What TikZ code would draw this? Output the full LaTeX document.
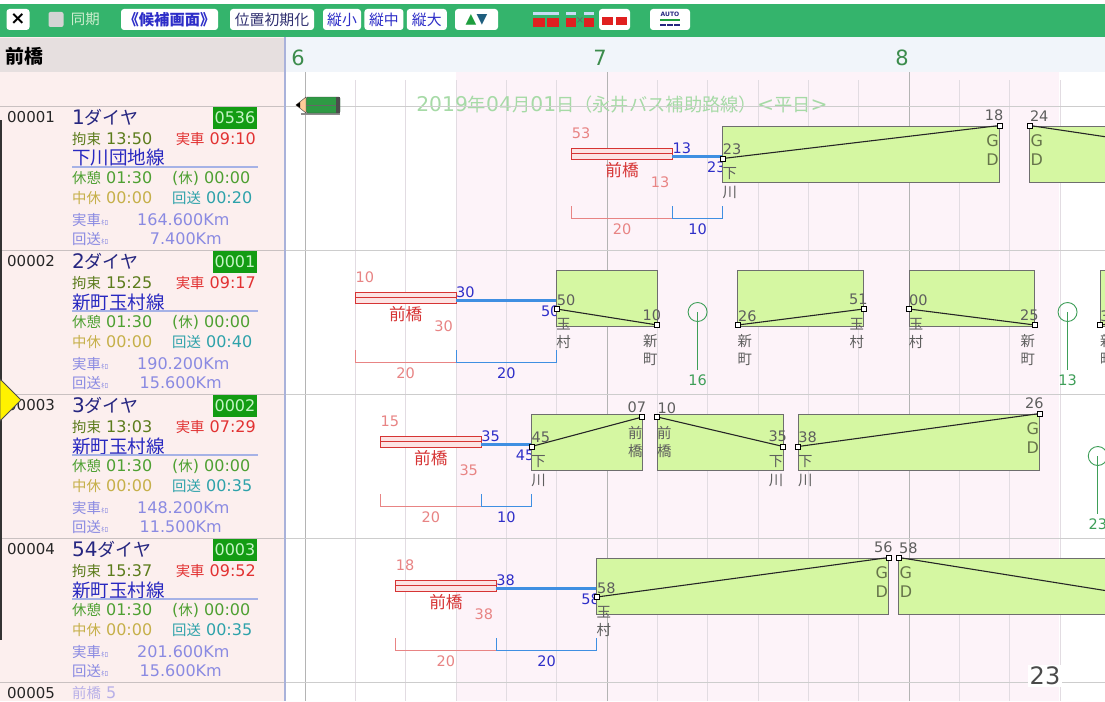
\documentclass[tikz,border=0pt]{standalone}
\usepackage{fontspec}
\setmainfont{DejaVu Sans}
\newfontfamily\jpfont{Noto Sans CJK JP}[Scale=0.9]
% Japanese runs switch to the CJK font by themselves
\XeTeXinterchartokenstate=1
\newXeTeXintercharclass\jpclass
\newcount\jpc
\newcommand{\jprange}[2]{%
  \jpc=#1\relax
  \loop\XeTeXcharclass\jpc=\jpclass\relax
  \ifnum\jpc<#2\relax\advance\jpc by 1\relax\repeat}
\jprange{"3000}{"30FF}
\jprange{"4E00}{"9FFF}
\jprange{"FF00}{"FFEF}
\XeTeXinterchartoks 0 \jpclass = {\begingroup\jpfont}
\XeTeXinterchartoks 4095 \jpclass = {\begingroup\jpfont}
\XeTeXinterchartoks \jpclass 0 = {\endgroup}
\XeTeXinterchartoks \jpclass 4095 = {\endgroup}
\usetikzlibrary{positioning}

\definecolor{barGreen}{HTML}{34B46C}
\definecolor{boxGray}{HTML}{D4D4D4}
\definecolor{syncGreen}{HTML}{CFEFD0}
\definecolor{numBlue}{HTML}{2E2EC8}
\definecolor{btnNavy}{HTML}{303070}
\definecolor{upGreen}{HTML}{1E9E3E}
\definecolor{downTeal}{HTML}{1E5E7E}
\definecolor{iconRed}{HTML}{E02020}
\definecolor{iconBlue}{HTML}{C8DCF4}
\definecolor{panelPink}{HTML}{FCEFEE}
\definecolor{headGray}{HTML}{E6DFDF}
\definecolor{headBlue}{HTML}{F1F5FA}
\definecolor{sepBlue}{HTML}{A9B2DA}
\definecolor{timePink}{HTML}{FDF3F9}
\definecolor{hourGray}{HTML}{B4B4B4}
\definecolor{minGray}{HTML}{E2DCE2}
\definecolor{rowGray}{HTML}{CDCDCD}
\definecolor{leftRule}{HTML}{C9C1C1}
\definecolor{hourGreen}{HTML}{3C8C4C}
\definecolor{dateGreen}{HTML}{A6DAA6}
\definecolor{pencilGreen}{HTML}{2E9A44}
\definecolor{tripFill}{HTML}{D5F7A2}
\definecolor{tripEdge}{HTML}{6E6E6E}
\definecolor{depotRed}{HTML}{D63434}
\definecolor{depotPink}{HTML}{FCE4E4}
\definecolor{salmon}{HTML}{E88484}
\definecolor{dhBlue}{HTML}{3F8FE2}
\definecolor{stGray}{HTML}{5E5E5E}
\definecolor{gdOlive}{HTML}{66744A}
\definecolor{breakGreen}{HTML}{3E9E58}
\definecolor{diaNavy}{HTML}{262680}
\definecolor{codeGreen}{HTML}{139C13}
\definecolor{codeText}{HTML}{C6F5C6}
\definecolor{kouOlive}{HTML}{5C7C1C}
\definecolor{jisRed}{HTML}{E23232}
\definecolor{routeBlue}{HTML}{2828C0}
\definecolor{routeLine}{HTML}{A6B2E6}
\definecolor{restGreen}{HTML}{4EA032}
\definecolor{nakaKhaki}{HTML}{C6B04A}
\definecolor{kaiTeal}{HTML}{2EA2AA}
\definecolor{kmLav}{HTML}{8A8AE2}
\definecolor{nextLav}{HTML}{B8B0E8}
\definecolor{pageGray}{HTML}{4A4A4A}

\tikzset{
  txt/.style={inner sep=0pt, font=\fontsize{16}{19}\selectfont},
  num/.style={inner sep=0pt, font=\fontsize{14.5}{16}\selectfont},
  tbtn/.style={fill=white, rounded corners=3pt, inner sep=0pt, minimum height=21pt,
    font=\fontsize{16.5}{17}\selectfont},
  tripbox/.style={fill=tripFill, draw=tripEdge, line width=0.9pt},
  tripline/.style={draw=black!85, line width=1.1pt},
  endsq/.style={rectangle, draw=black, fill=white, minimum size=5pt, inner sep=0pt, line width=0.9pt},
  station/.style={inner sep=0pt, text=stGray, align=center, font=\fontsize{16}{18.5}\selectfont},
  depotbar/.style={draw=depotRed, fill=depotPink, line width=0.9pt},
  deadhead/.style={draw=dhBlue, line width=2.5pt},
  redbr/.style={draw=salmon, line width=0.9pt},
  bluebr/.style={draw=dhBlue, line width=0.9pt},
  restmark/.style={circle, draw=breakGreen, minimum size=19pt, inner sep=0pt, line width=0.9pt},
  dtxt/.style={txt, anchor=west},
  hourlbl/.style={inner sep=0pt, text=hourGreen, font=\fontsize{21}{21}\selectfont}
}

% station heights inside a row
\newcommand{\yGD}{19.5}
\newcommand{\yMae}{23}
\newcommand{\yShimo}{52.5}
\newcommand{\yTama}{59}
\newcommand{\yShin}{75}

\newcommand{\twod}[1]{\ifnum#1<10 0\fi#1}
\newcommand{\gdmark}{\textcolor{gdOlive}{G}\\\textcolor{gdOlive}{D}}
\newcommand{\kiro}{{\fontsize{8}{8}\selectfont ｷﾛ}}

% one trip: name, start, end, start height, end height, start stop, end stop
\newcommand{\trip}[7]{%
  \pgfmathtruncatemacro\mA{mod(#2,60)}%
  \pgfmathtruncatemacro\mB{mod(#3,60)}%
  \draw[tripbox] (#2,20) rectangle (#3,76);
  \coordinate (#1a) at (#2,#4);
  \coordinate (#1b) at (#3,#5);
  \draw[tripline] (#1a) -- (#1b);
  \node[endsq] (#1qa) at (#1a) {};
  \node[endsq] (#1qb) at (#1b) {};
  \node[num, text=stGray, anchor=base west] (#1ma) at ([yshift=4pt]#1a) {\twod\mA};
  \node[num, text=stGray, anchor=base east] (#1mb) at ([xshift=4pt,yshift=5pt]#1b) {\twod\mB};
  \node[station, anchor=north] (#1na) at ([xshift=7pt,yshift=-9pt]#1a) {#6};
  \node[station, anchor=north] (#1nb) at ([xshift=-7pt,yshift=-9pt]#1b) {#7};
}

% leaving the depot: name, out, end of depot time, first trip
\newcommand{\outdepot}[4]{%
  \pgfmathtruncatemacro\mA{mod(#2,60)}%
  \pgfmathtruncatemacro\mB{mod(#3,60)}%
  \pgfmathtruncatemacro\mC{mod(#4,60)}%
  \pgfmathsetmacro\xA{(#2+#3)/2}%
  \pgfmathsetmacro\xB{(#3+#4)/2}%
  \pgfmathtruncatemacro\dA{#3-#2}%
  \pgfmathtruncatemacro\dB{#4-#3}%
  \draw[depotbar] (#2,42.5) rectangle (#3,53);
  \draw[depotRed, line width=0.7pt] (#2,47.75) -- (#3,47.75);
  \coordinate (#1p) at (#2,42.5);
  \coordinate (#1q) at (#3,53);
  \coordinate (#1m) at (\xA,53);
  \coordinate (#1o) at (#3,50.5);
  \coordinate (#1i) at (#4,50.5);
  \draw[deadhead] (#1o) -- (#1i);
  \node[num, text=salmon, anchor=base west] (#1l0) at ([yshift=10pt]#1p) {\twod\mA};
  \node[txt, text=depotRed, font=\fontsize{18.5}{19}\selectfont] (#1nm) at ([yshift=-11pt]#1m) {前橋};
  \node[num, text=salmon, anchor=base east] (#1l1) at ([xshift=-3pt,yshift=-28pt]#1q) {\twod\mB};
  \node[num, text=numBlue, anchor=base west] (#1l2) at ([yshift=3pt]#1o) {\twod\mB};
  \node[num, text=numBlue, anchor=east] (#1l3) at ([xshift=3pt,yshift=-11pt]#1i) {\twod\mC};
  \draw[redbr] (#2,100) |- (#3,112);
  \draw[bluebr] (#3,100) |- (#4,112) -- (#4,100);
  \node[num, text=salmon] (#1w0) at (\xA,123) {\dA};
  \node[num, text=numBlue] (#1w1) at (\xB,123) {\dB};
}

% break between two trips: name, end of one, start of next
\newcommand{\breakmark}[3]{%
  \pgfmathsetmacro\bx{(#2+#3)/2}%
  \pgfmathtruncatemacro\bd{#3-#2}%
  \node[restmark] (#1c) at (\bx,62) {};
  \coordinate (#1f) at (\bx,120);
  \draw[breakGreen, line width=0.9pt] (#1c.center) -- (#1f);
  \node[num, text=breakGreen, anchor=north] (#1n) at ([yshift=-5pt]#1f) {\bd};
}

\begin{document}
\begin{tikzpicture}[x=1pt, y=-1pt]
\useasboundingbox (0,0) rectangle (1105,701);
\fill[white] (0,0) rectangle (1105,701);

% tool bar
\fill[barGreen] (0,4) rectangle (1105,37);
\node[tbtn, minimum width=23pt, font=\fontsize{18}{18}\selectfont\bfseries] (closeBtn) at (18,19.5) {×};
\node[fill=boxGray, rounded corners=2pt, minimum size=15pt, inner sep=0pt] (syncBox) at (56,19.5) {};
\node[txt, text=syncGreen, right=7pt of syncBox] (syncText) {同期};
\node[tbtn, minimum width=97pt, text=numBlue, font=\fontsize{17}{17}\selectfont\bfseries] (candBtn) at (169.5,19.5) {《候補画面》};
\node[tbtn, minimum width=84pt, text=btnNavy] (initBtn) at (272,19.5) {位置初期化};
\node[tbtn, minimum width=38pt, text=numBlue] (zoomS) at (342,19.5) {縦小};
\node[tbtn, minimum width=39pt, text=numBlue, right=3pt of zoomS] (zoomM) {縦中};
\node[tbtn, minimum width=40pt, text=numBlue, right=3pt of zoomM] (zoomL) {縦大};
\node[tbtn, minimum width=43pt, font=\fontsize{14}{14}\selectfont] (arrowBtn) at (476.5,19.5)
  {\textcolor{upGreen}{▲}\textcolor{downTeal}{▼}};
\fill[iconBlue] (533,12) rectangle (559,15);
\fill[iconRed] (533,18) rectangle (545,27);
\fill[iconRed] (547,18) rectangle (559,27);
\fill[iconBlue] (566,12) rectangle (576,15);
\fill[iconBlue] (584,12) rectangle (594,15);
\fill[iconRed] (566,18) rectangle (576,27);
\fill[iconRed] (584,18) rectangle (594,27);
\node[inner sep=0pt, text=black!60, font=\fontsize{10}{10}\selectfont] (swapMark) at (580,21) {×};
\node[tbtn, minimum width=31pt] (pairBtn) at (614.5,19.5) {};
\fill[iconRed] (602,17) rectangle (613,25);
\fill[iconRed] (616,17) rectangle (627,25);
\node[tbtn, minimum width=40pt] (autoBtn) at (670,19.5) {};
\node[inner sep=0pt, text=diaNavy, font=\fontsize{6}{6}\selectfont\bfseries] (autoText) at (670,14) {AUTO};
\fill[upGreen] (660,19) rectangle (680,21);
\foreach \a in {660,667,674} \fill[diaNavy] (\a,24) rectangle (\a+6,26);

% left panel
\fill[panelPink] (0,37) rectangle (284,701);
\fill[headGray] (0,38) rectangle (284,72);
\node[txt, anchor=west, font=\fontsize{21}{21}\selectfont\bfseries] (depotHead) at (5,56) {前橋};
\foreach \rid/\ry/\dno/\dname/\dcode/\dkou/\djis/\droute/\dkai/\djkm/\dkkm in {
  1/106/00001/1ダイヤ/0536/13:50/09:10/下川団地線/00:20/164.600/7.400,
  2/250/00002/2ダイヤ/0001/15:25/09:17/新町玉村線/00:40/190.200/15.600,
  3/394/00003/3ダイヤ/0002/13:03/07:29/新町玉村線/00:35/148.200/11.500,
  4/538/00004/54ダイヤ/0003/15:37/09:52/新町玉村線/00:35/201.600/15.600}{
  \node[dtxt, text=black!85, font=\fontsize{15}{15}\selectfont] (no\rid) at (7,\ry+11) {\dno};
  \node[dtxt, text=diaNavy, font=\fontsize{20}{20}\selectfont] (nm\rid) at (72,\ry+11) {\dname};
  \node[fill=codeGreen, text=codeText, minimum width=44pt, minimum height=23pt, inner sep=0pt,
    font=\fontsize{16}{16}\selectfont] (cd\rid) at (235,\ry+11.5) {\dcode};
  \node[dtxt, text=kouOlive] (ko\rid) at (72,\ry+33) {拘束 \dkou};
  \node[txt, anchor=east, text=jisRed] (js\rid) at (256,\ry+33) {実車 \djis};
  \node[dtxt, text=routeBlue, font=\fontsize{20.6}{21}\selectfont] (rt\rid) at (72,\ry+52) {\droute};
  \draw[routeLine, line width=1.5pt] (72,\ry+61) -- (258,\ry+61);
  \node[dtxt, text=restGreen] (ks\rid) at (72,\ry+72) {休憩 01:30};
  \node[dtxt, text=restGreen] (kk\rid) at (172,\ry+72) {(休) 00:00};
  \node[dtxt, text=nakaKhaki] (nk\rid) at (72,\ry+92) {中休 00:00};
  \node[dtxt, text=kaiTeal] (kt\rid) at (172,\ry+92) {回送 \dkai};
  \node[dtxt, text=kmLav] (jl\rid) at (72,\ry+114) {実車\kiro};
  \node[dtxt, text=kmLav] (jk\rid) at (137,\ry+114) {\djkm Km};
  \node[dtxt, text=kmLav] (kl\rid) at (72,\ry+133) {回送\kiro};
  \node[txt, anchor=east, text=kmLav] (kd\rid) at (222,\ry+133) {\dkkm Km};
}
\node[dtxt, text=black!85, font=\fontsize{15}{15}\selectfont] (no5) at (7,693) {00005};
\node[dtxt, text=nextLav] (nm5) at (72,693) {前橋 5};

% time axis
\fill[headBlue] (286,37) rectangle (1105,72);
\fill[timePink] (456,72) rectangle (1059,701);
\foreach \h [count=\i from 0] in {6,7,8}
  \node[hourlbl] (hour\h) at (298+302*\i,58) {\h};
\begin{scope}[shift={(305,0)}, x=5.0333pt]
  \foreach \m in {10,20,...,170} \draw[minGray] (\m,80) -- (\m,701);
  \foreach \m in {0,60,120} \draw[hourGray] (\m,72) -- (\m,701);
\end{scope}
\draw[sepBlue, line width=1.5pt] (285,37) -- (285,701);

\node[txt, text=dateGreen, font=\fontsize{20.3}{20}\selectfont] (dateLine) at (622,105)
  {2019年04月01日（永井バス補助路線）<平日>};
\foreach \y in {106,250,394,538,682} {
  \draw[leftRule] (0,\y) -- (284,\y);
  \draw[rowGray] (286,\y) -- (1105,\y);
}

% pencil
\fill[black!45] (301,113) rectangle (340,115);
\draw[fill=pencilGreen, draw=black!75, rounded corners=1.5pt] (306,97) rectangle (340,113);
\draw[black!60] (306,105) -- (340,105);
\fill[black!70] (336,97) rectangle (340,113);
\draw[fill=orange!40, draw=black!75] (306,97) -- (296,105) -- (306,113) -- cycle;
\fill[black] (296,105) -- (300,102.2) -- (300,107.8) -- cycle;

% duties
\begin{scope}[shift={(305,106)}, x=5.0333pt]
  \outdepot{r1d}{53}{73}{83}
  \trip{r1t1}{83}{138}{\yShimo}{\yGD}{下\\川}{\gdmark}
  \trip{r1t2}{144}{188}{\yGD}{\yShimo}{\gdmark}{下\\川}
\end{scope}
\begin{scope}[shift={(305,250)}, x=5.0333pt]
  \outdepot{r2d}{10}{30}{50}
  \trip{r2t1}{50}{70}{\yTama}{\yShin}{玉\\村}{新\\町}
  \breakmark{r2b1}{70}{86}
  \trip{r2t2}{86}{111}{\yShin}{\yTama}{新\\町}{玉\\村}
  \trip{r2t3}{120}{145}{\yTama}{\yShin}{玉\\村}{新\\町}
  \breakmark{r2b2}{145}{158}
  \trip{r2t4}{158}{183}{\yShin}{\yTama}{新\\町}{玉\\村}
\end{scope}
\begin{scope}[shift={(305,394)}, x=5.0333pt]
  \outdepot{r3d}{15}{35}{45}
  \trip{r3t1}{45}{67}{\yShimo}{\yMae}{下\\川}{前\\橋}
  \trip{r3t2}{70}{95}{\yMae}{\yShimo}{前\\橋}{下\\川}
  \trip{r3t3}{98}{146}{\yShimo}{\yGD}{下\\川}{\gdmark}
  \breakmark{r3b1}{146}{169}
\end{scope}
\begin{scope}[shift={(305,538)}, x=5.0333pt]
  \outdepot{r4d}{18}{38}{58}
  \trip{r4t1}{58}{116}{\yTama}{\yGD}{玉\\村}{\gdmark}
  \trip{r4t2}{118}{167}{\yGD}{\yTama}{\gdmark}{玉\\村}
\end{scope}

% pointer and page number
\fill[black!80] (0,120) rectangle (2,640);
\draw[fill=yellow, draw=black!70, line width=0.8pt] (0,379) -- (21,400) -- (0,421) -- cycle;
\node[fill=white, inner sep=2pt, text=pageGray, font=\fontsize{24}{24}\selectfont] (pageNo) at (1045,676) {23};
\end{tikzpicture}
\end{document}
